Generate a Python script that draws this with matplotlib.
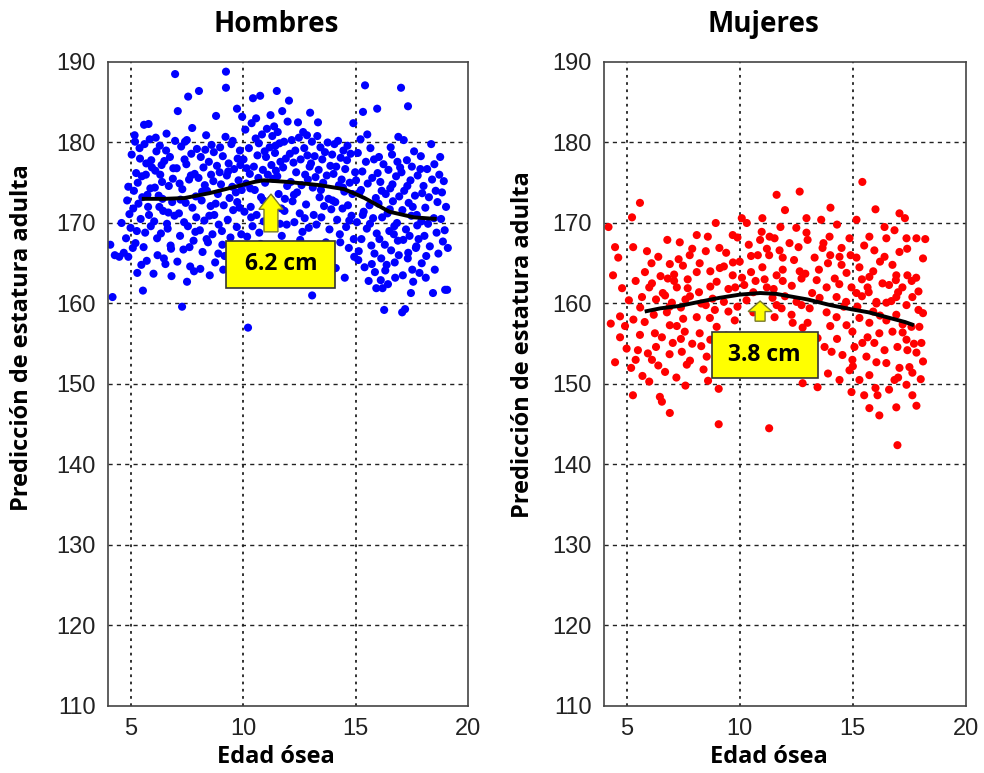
import numpy as np
import matplotlib
matplotlib.use('Agg')
import matplotlib.pyplot as plt
from matplotlib.patches import Rectangle, FancyArrow

# ---- Hombres: edad osea vs prediccion de estatura ----
hombres_edad = [
    4.1, 4.2, 4.5, 4.7, 4.9, 5.0, 4.8, 4.9, 4.6, 4.95, 4.3, 4.85,
    5.05, 5.1, 5.15, 5.2, 5.25, 5.3, 5.35, 5.4, 5.45, 5.5,
    5.55, 5.6, 5.65, 5.7, 5.75, 5.8, 5.85, 5.9, 5.95, 5.12,
    5.22, 5.32, 5.42, 5.52, 5.62, 5.72, 5.82, 5.92, 5.28, 5.48,
    5.68, 5.88, 5.18, 5.58, 5.78,
    6.02, 6.05, 6.1, 6.15, 6.2, 6.25, 6.3, 6.35, 6.4, 6.45,
    6.5, 6.55, 6.6, 6.65, 6.7, 6.75, 6.8, 6.85, 6.9, 6.95,
    6.08, 6.18, 6.28, 6.38, 6.48, 6.58, 6.68, 6.78, 6.88, 6.98,
    6.12, 6.42, 6.62, 6.82, 6.32,
    6.98, 7.56, 7.1, 7.74, 7.29, 7.51, 7.05, 7.15, 7.2, 7.25,
    7.3, 7.35, 7.4, 7.45, 7.5, 7.55, 7.6, 7.65, 7.7, 7.75,
    7.8, 7.85, 7.9, 7.95, 7.08, 7.18, 7.38, 7.48, 7.62, 7.82,
    7.92, 7.22, 7.42, 7.68, 7.88,
    8.04, 8.8, 8.36, 8.02, 8.08, 8.12, 8.16, 8.2, 8.24, 8.28,
    8.32, 8.4, 8.44, 8.48, 8.52, 8.56, 8.6, 8.64, 8.68, 8.72,
    8.76, 8.84, 8.88, 8.92, 8.96, 8.1, 8.3, 8.5, 8.7, 8.9,
    8.18, 8.38, 8.58, 8.78, 8.98,
    9.24, 9.24, 9.73, 9.96, 9.02, 9.06, 9.1, 9.14, 9.18, 9.22,
    9.28, 9.32, 9.36, 9.4, 9.44, 9.48, 9.52, 9.56, 9.6, 9.64,
    9.68, 9.72, 9.76, 9.8, 9.84, 9.88, 9.92, 9.12, 9.34, 9.54,
    9.74, 9.94, 9.08, 9.46, 9.86,
    10.44, 10.76, 10.22, 10.02, 10.06, 10.1, 10.14, 10.18, 10.26, 10.3,
    10.34, 10.38, 10.42, 10.48, 10.52, 10.56, 10.6, 10.64, 10.68, 10.72,
    10.8, 10.84, 10.88, 10.92, 10.96, 10.12, 10.32, 10.5, 10.7, 10.9,
    10.16, 10.36, 10.58, 10.78, 10.98,
    11.5, 11.02, 11.06, 11.1, 11.14, 11.18, 11.22, 11.26, 11.3, 11.34,
    11.38, 11.42, 11.46, 11.54, 11.58, 11.62, 11.66, 11.7, 11.74, 11.78,
    11.82, 11.86, 11.9, 11.94, 11.98, 11.12, 11.32, 11.52, 11.72, 11.92,
    11.24, 11.44, 11.64, 11.84, 11.96,
    12.04, 12.44, 12.67, 12.98, 12.08, 12.12, 12.16, 12.2, 12.24, 12.28,
    12.32, 12.36, 12.4, 12.48, 12.52, 12.56, 12.6, 12.64, 12.72, 12.76,
    12.8, 12.84, 12.88, 12.92, 12.96, 12.14, 12.34, 12.54, 12.74, 12.94,
    12.26, 12.86,
    13.33, 13.07, 13.02, 13.06, 13.1, 13.14, 13.18, 13.22, 13.26, 13.3,
    13.36, 13.4, 13.44, 13.48, 13.52, 13.56, 13.6, 13.64, 13.68, 13.72,
    13.76, 13.8, 13.84, 13.88, 13.92, 13.96, 13.12, 13.38, 13.58, 13.78,
    13.98, 13.46,
    14.9, 14.02, 14.06, 14.1, 14.14, 14.18, 14.22, 14.26, 14.3, 14.34,
    14.38, 14.42, 14.46, 14.5, 14.54, 14.58, 14.62, 14.66, 14.7, 14.74,
    14.78, 14.82, 14.86, 14.94, 14.98, 14.12, 14.32, 14.52, 14.72, 14.92,
    14.44, 14.64,
    15.42, 15.96, 15.33, 15.02, 15.06, 15.1, 15.14, 15.18, 15.22, 15.26,
    15.3, 15.36, 15.4, 15.46, 15.5, 15.54, 15.58, 15.62, 15.66, 15.7,
    15.74, 15.78, 15.82, 15.86, 15.9, 15.94, 15.98, 15.12, 15.32, 15.52,
    15.72, 15.92, 15.24, 15.64, 15.84,
    16.27, 16.76, 16.2, 16.9, 16.02, 16.06, 16.1, 16.14, 16.18, 16.24,
    16.3, 16.34, 16.38, 16.42, 16.46, 16.5, 16.54, 16.58, 16.62, 16.66,
    16.7, 16.74, 16.8, 16.84, 16.88, 16.94, 16.98, 16.12, 16.32, 16.52,
    16.72, 16.92, 16.04, 16.44, 16.64, 16.86, 16.16, 16.56,
    17.02, 17.33, 17.07, 17.2, 17.56, 17.04, 17.08, 17.12, 17.16, 17.24,
    17.28, 17.32, 17.36, 17.4, 17.44, 17.48, 17.52, 17.6, 17.64, 17.68,
    17.72, 17.76, 17.8, 17.84, 17.88, 17.92, 17.96, 17.14, 17.34, 17.54,
    17.74, 17.94, 17.1, 17.3, 17.5, 17.7, 17.9, 17.46,
    18.36, 18.76, 18.44, 18.98, 19.07, 18.02, 18.06, 18.1, 18.14, 18.18,
    18.22, 18.26, 18.3, 18.4, 18.48, 18.52, 18.56, 18.6, 18.64, 18.68,
    18.72, 18.8, 18.84, 18.88, 18.92, 18.96, 19.02, 19.1, 18.12, 18.5,
]
hombres_estatura = [
    167.3, 160.8, 165.8, 166.3, 165.8, 169.4, 168.1, 174.5, 170.0, 171.1, 166.0, 172.8,
    178.5, 166.9, 174.0, 180.1, 176.2, 163.8, 172.4, 179.3, 170.5, 175.8,
    161.6, 182.2, 168.8, 177.4, 173.5, 182.3, 180.4, 169.6, 176.9, 171.8,
    167.5, 175.0, 178.0, 173.2, 179.8, 165.3, 171.0, 177.8, 169.0, 164.8,
    176.0, 174.3, 180.9, 167.0, 172.0,
    163.7, 170.2, 176.5, 178.9, 166.0, 173.4, 179.6, 168.7, 175.1, 171.5,
    177.7, 164.9, 181.1, 169.3, 174.6, 178.2, 166.8, 172.6, 176.8, 170.9,
    174.4, 168.1, 172.0, 177.2, 165.6, 179.0, 171.3, 167.2, 175.5, 180.2,
    180.6, 173.0, 169.9, 163.4, 176.0,
    188.5, 185.7, 183.9, 181.8, 159.6, 162.7, 176.8, 171.2, 168.4, 179.5,
    174.2, 166.7, 177.9, 172.5, 180.3, 169.6, 175.4, 164.6, 178.6, 171.9,
    167.8, 176.1, 173.3, 179.2, 165.2, 174.9, 170.1, 177.3, 167.0, 164.0,
    170.7, 172.9, 180.1, 175.9, 168.9,
    186.4, 183.3, 180.9, 175.6, 169.1, 178.2, 172.8, 166.4, 176.9, 170.3,
    179.1, 174.0, 167.6, 177.6, 163.5, 172.1, 179.7, 168.6, 175.2, 171.0,
    165.1, 177.1, 173.6, 169.8, 176.3, 164.3, 174.7, 170.9, 178.8, 166.2,
    173.9, 168.0, 176.0, 172.4, 179.4,
    188.8, 186.8, 184.2, 183.2, 174.8, 169.0, 178.3, 172.2, 165.9, 180.7,
    175.9, 170.4, 177.4, 173.1, 168.2, 179.8, 174.5, 171.6, 176.7, 166.8,
    173.8, 169.5, 178.0, 175.3, 171.9, 177.2, 168.6, 164.2, 176.4, 180.2,
    172.6, 174.1, 167.3, 163.0, 179.0,
    185.5, 185.8, 157.0, 177.9, 171.4, 181.6, 174.9, 168.3, 179.3, 176.1,
    172.0, 182.4, 169.6, 177.0, 174.1, 180.5, 171.0, 178.4, 175.6, 168.8,
    173.2, 181.0, 176.6, 170.2, 178.9, 165.0, 174.3, 163.8, 179.9, 172.8,
    176.8, 170.7, 183.0, 167.4, 175.0,
    186.4, 178.2, 181.7, 176.0, 170.6, 179.4, 183.4, 177.2, 180.8, 175.5,
    182.0, 178.7, 176.5, 181.3, 173.6, 179.9, 177.6, 171.8, 183.9, 176.9,
    180.1, 173.0, 178.0, 169.8, 182.6, 166.3, 167.0, 175.8, 168.4, 165.2,
    172.9, 179.6, 169.9, 171.5, 174.6,
    185.2, 182.5, 181.3, 183.7, 178.6, 175.1, 180.3, 172.7, 177.5, 170.1,
    179.0, 176.3, 173.8, 180.6, 171.2, 177.9, 174.7, 168.9, 179.3, 176.0,
    172.3, 180.9, 175.4, 169.4, 177.0, 166.6, 164.7, 167.9, 170.6, 165.8,
    173.5, 178.4,
    182.5, 161.0, 177.4, 180.1, 174.4, 171.0, 178.3, 175.7, 169.8, 180.8,
    176.6, 173.2, 179.4, 170.7, 177.9, 175.0, 172.1, 178.8, 167.6, 175.9,
    180.0, 173.0, 169.2, 177.1, 171.7, 178.5, 165.4, 167.1, 166.0, 164.5,
    172.8, 174.1,
    182.4, 176.1, 179.8, 172.6, 177.0, 170.4, 180.2, 174.7, 168.6, 178.1,
    175.4, 171.8, 179.0, 173.9, 176.7, 169.5, 177.8, 172.2, 166.9, 175.0,
    178.6, 170.9, 173.6, 165.8, 176.3, 164.4, 167.6, 163.2, 170.3, 168.0,
    174.4, 179.6,
    187.1, 184.2, 183.8, 175.3, 170.1, 178.7, 166.5, 173.8, 180.4, 168.0,
    176.4, 171.4, 164.5, 177.6, 169.3, 174.9, 162.8, 172.2, 179.3, 167.2,
    175.6, 170.6, 177.9, 163.9, 173.1, 168.7, 176.2, 165.4, 171.0, 181.0,
    164.9, 161.9, 174.1, 169.9, 166.2,
    159.2, 163.2, 161.9, 180.7, 172.4, 168.0, 175.1, 165.6, 170.7, 177.3,
    167.3, 173.6, 164.8, 171.2, 176.6, 169.0, 174.3, 166.6, 178.5, 172.7,
    168.6, 165.1, 175.8, 170.0, 167.8, 173.3, 176.9, 162.9, 164.1, 171.7,
    169.6, 166.0, 178.2, 162.4, 174.8, 177.6, 174.0, 179.4,
    186.8, 184.5, 158.9, 159.3, 162.7, 176.3, 171.6, 167.9, 174.0, 169.2,
    177.8, 165.6, 172.5, 168.4, 175.3, 170.9, 164.2, 178.9, 173.4, 166.9,
    171.0, 175.9, 168.0, 163.8, 176.7, 170.2, 173.7, 180.3, 166.3, 172.0,
    169.7, 165.0, 163.5, 174.6, 177.0, 167.1, 178.3, 161.3,
    179.8, 178.2, 161.3, 161.7, 161.7, 174.6, 168.4, 171.9, 165.9, 176.7,
    169.9, 173.2, 167.1, 175.4, 170.6, 164.2, 174.0, 168.8, 172.6, 166.2,
    176.0, 170.5, 173.8, 167.7, 175.2, 169.1, 172.0, 166.9, 163.2, 177.3,
]

# curva media hombres
hombres_curva_edad = [5.5, 6.5, 7.4, 8.5, 9.5, 10.5, 10.9, 12.0, 13.4, 14.5, 15.4, 16.5, 17.6, 18.6]
hombres_curva_estatura = [173.0, 173.0, 173.1, 173.7, 174.4, 175.1, 175.3, 175.1, 174.7, 174.2, 173.1, 171.4, 170.7, 170.5]

# ---- Mujeres ----
mujeres_edad = [
    5.59, 5.24, 4.49, 4.63, 5.29, 8.94, 7.35, 8.1, 8.59, 9.69,
    10.09, 10.31, 11.0, 10.97, 7.79, 8.23, 6.91, 7.49, 5.81, 6.12,
    6.82, 9.12, 8.98, 9.69, 7.22, 7.7, 5.68,
    15.42, 11.63, 12.65, 14.01, 17.06, 12.95, 15.16, 16.4, 16.84, 12.95,
    13.97, 14.85, 15.73, 16.48, 17.37, 17.81, 11.32, 11.54, 12.2, 13.66,
    14.5, 15.95, 17.06, 13.31, 14.41, 15.16, 11.76, 11.9, 11.0, 11.9,
    12.65, 14.5, 15.29, 16.75, 11.63, 12.73, 14.72, 15.73, 16.92, 17.41,
    13.84, 14.94, 15.65, 16.31, 17.19, 16.92, 17.63, 15.16, 16.04, 16.48,
    14.28, 13.53, 12.51, 11.45,
    4.71, 4.93, 4.71, 4.49, 5.28, 6.47, 6.56, 6.91, 9.07, 9.07,
    11.3, 5.5, 5.94, 6.12, 7.44, 7.66, 5.59, 6.25, 6.56, 7.04,
    8.23, 8.54, 6.91, 7.22, 7.57, 8.98, 9.78, 8.68, 6.78, 8.1,
    16.97, 15.73, 16.17, 16.92, 17.81, 16.09, 14.94, 13.44, 12.78, 14.41,
    15.73, 16.84, 17.37, 17.63, 14.85, 15.29, 17.63, 17.5, 17.06, 16.48,
    16.04, 15.6, 14.98, 14.54, 14.06, 13.75, 13.44, 15.07, 15.42, 15.95,
    16.4, 16.97, 17.41, 18.03, 17.81, 17.37, 17.59, 17.94, 16.75, 16.17,
    15.65, 14.98, 14.72, 15.29, 15.73, 16.48, 16.92, 14.28, 13.84, 13.09,
    12.73, 17.37, 16.04, 12.34, 12.78, 12.29, 11.85, 11.54, 12.95, 11.63,
    4.2, 6.3, 6.6, 7.0, 7.4, 7.8, 8.2, 8.5, 8.8, 9.3,
    9.5, 9.9, 10.2, 10.5, 10.6, 10.8, 9.4, 8.7, 7.1, 6.4,
    5.9, 5.4, 5.1, 4.8, 4.4, 10.0, 10.4, 9.8,
    5.2, 5.7, 6.3, 7.9, 8.4, 8.7, 6.0, 7.2, 4.3, 5.0,
    9.4, 9.6,
    13.1, 13.9, 14.3, 16.6, 17.2, 18.1, 18.0, 17.9, 17.6, 18.1,
    18.2, 16.2, 15.5, 14.0, 13.0, 12.5, 12.0, 13.6, 16.0, 17.3,
    14.3, 11.2, 12.3, 13.2, 14.6, 15.9, 17.0, 17.8, 16.6, 15.4,
    13.5, 11.2, 10.6,
    6.0, 6.2, 6.5, 6.7, 6.9, 7.1, 7.3, 7.5, 7.7, 7.9,
    8.1, 8.3, 8.5, 8.7, 8.9, 9.1, 9.3, 9.5, 9.7, 9.9,
    10.1, 10.3, 10.5, 10.7, 10.9, 5.3, 5.6, 6.1, 6.8, 7.6,
    5.4, 5.8, 6.4, 6.9, 7.4, 7.8, 8.3, 8.6, 6.7, 7.6,
    11.1, 11.5, 11.9, 12.4, 12.9, 13.4, 13.9, 14.4, 14.9, 15.4,
    15.9, 16.4, 16.9, 17.4, 17.9, 11.3, 11.8, 12.6, 13.7, 14.2,
    14.7, 15.2, 15.7, 16.2, 16.7, 17.2, 17.7, 18.1, 13.0, 15.0,
    16.0, 17.0, 14.0, 12.0, 15.5,
]
mujeres_estatura = [
    172.5, 170.7, 167.0, 165.7, 167.0, 170.0, 167.6, 168.5, 168.3, 168.5,
    170.6, 170.0, 170.6, 168.9, 166.0, 165.0, 164.9, 164.7, 163.9, 162.5,
    163.1, 164.4, 162.7, 163.5, 162.0, 161.9, 160.8,
    175.1, 173.5, 173.9, 171.9, 171.2, 170.6, 170.4, 169.5, 169.1, 168.8,
    168.3, 168.1, 168.3, 168.1, 168.1, 168.1, 168.3, 168.1, 167.5, 166.9,
    166.9, 166.6, 166.4, 165.7, 165.8, 165.7, 166.6, 165.7, 164.5, 164.2,
    164.0, 164.8, 164.5, 164.8, 163.5, 163.1, 163.8, 163.3, 163.5, 163.5,
    162.0, 162.0, 162.0, 162.5, 162.0, 160.8, 160.8, 161.3, 160.2, 160.1,
    160.8, 160.7, 160.2, 160.7,
    158.4, 157.2, 155.8, 152.7, 148.6, 148.4, 147.8, 146.4, 149.4, 145.0,
    144.5, 154.2, 153.8, 153.0, 154.0, 152.4, 156.1, 156.3, 155.8, 155.1,
    156.3, 153.4, 157.3, 157.2, 156.5, 157.1, 157.9, 158.2, 158.9, 158.3,
    142.4, 147.0, 146.1, 147.1, 147.3, 148.6, 149.0, 149.6, 150.1, 150.5,
    151.1, 150.5, 149.9, 148.6, 151.7, 150.5, 151.4, 152.1, 152.0, 152.6,
    152.7, 153.4, 153.0, 153.6, 154.0, 154.6, 155.7, 154.6, 155.1, 155.1,
    154.2, 154.6, 154.2, 155.1, 153.9, 155.5, 157.1, 157.1, 156.5, 156.3,
    155.8, 156.5, 157.3, 158.2, 157.6, 157.9, 158.6, 158.3, 158.9, 159.4,
    159.8, 159.8, 160.0, 157.6, 157.0, 158.6, 159.4, 158.3, 155.8, 159.8,
    169.5, 160.5, 161.3, 160.1, 159.5, 160.9, 161.4, 159.8, 160.6, 160.2,
    161.8, 159.6, 162.3, 163.9, 158.9, 166.0, 166.3, 164.0, 163.6, 165.8,
    166.5, 162.8, 160.4, 161.9, 163.5, 165.2, 167.3, 162.0,
    152.0, 151.0, 154.6, 155.0, 151.8, 155.5, 150.3, 150.8, 157.5, 154.4,
    156.0, 153.0,
    152.0, 151.3, 155.6, 149.3, 157.4, 152.8, 150.6, 159.2, 162.8, 165.6,
    168.0, 165.2, 167.2, 166.0, 167.9, 169.4, 171.6, 170.4, 171.7, 170.6,
    169.8, 166.8, 162.2, 161.3, 159.6, 159.0, 161.4, 163.2, 162.3, 163.0,
    164.2, 162.0, 161.4,
    162.0, 158.6, 163.4, 161.0, 159.6, 162.8, 165.5, 158.1, 163.0, 166.8,
    163.9, 160.0, 166.5, 162.1, 159.2, 166.9, 164.6, 159.0, 165.1, 168.2,
    163.2, 160.4, 165.9, 162.8, 167.9, 158.0, 159.5, 165.0, 167.9, 160.5,
    153.0, 157.7, 152.3, 153.7, 155.6, 152.9, 154.7, 150.4, 151.5, 149.8,
    163.0, 161.8, 162.8, 165.4, 163.7, 162.9, 165.0, 162.4, 166.0, 160.9,
    164.0, 165.8, 162.9, 166.8, 161.5, 166.0, 169.5, 167.0, 167.5, 163.1,
    160.2, 159.6, 161.4, 158.5, 160.3, 156.4, 155.0, 158.8, 157.6, 152.2,
    149.5, 150.8, 157.2, 160.9, 148.6,
]

mujeres_curva_edad = [5.8, 6.5, 7.35, 8.2, 9.1, 10.0, 10.9, 11.6, 12.2, 13.0, 14.0, 14.9, 15.7, 16.5, 17.3, 17.7]
mujeres_curva_estatura = [159.0, 159.4, 159.7, 160.2, 160.7, 161.1, 161.3, 161.2, 160.9, 160.5, 159.8, 159.3, 158.9, 158.3, 157.7, 157.3]

diferencia = ['6.2 cm', '3.8 cm']
titulos = ['Hombres', 'Mujeres']

plt.rcParams['font.family'] = ['Liberation Sans', 'DejaVu Sans']

fig = plt.figure(figsize=(9.84, 7.73), dpi=100)
ax1 = fig.add_axes([0.1098, 0.0867, 0.3659, 0.8331])
ax2 = fig.add_axes([0.6138, 0.0867, 0.3679, 0.8331])

paneles = [
    (ax1, hombres_edad, hombres_estatura, hombres_curva_edad, hombres_curva_estatura, '#0000ff'),
    (ax2, mujeres_edad, mujeres_estatura, mujeres_curva_edad, mujeres_curva_estatura, '#ff0000'),
]

for ax, ex, ey, cx, cy, col in paneles:
    ax.scatter(ex, ey, s=34, color=col, edgecolors='none', zorder=2)
    ax.plot(cx, cy, color='black', lw=2.8, zorder=3, solid_capstyle='butt')
    ax.set_xlim(4, 20)
    ax.set_ylim(110, 190)
    ax.set_xticks([5, 10, 15, 20])
    ax.set_yticks(range(110, 191, 10))
    for yv in range(120, 190, 10):
        ax.axhline(yv, color='#222222', lw=1.0, ls=(0, (3, 3)), zorder=1)
    for xv in (5, 10, 15):
        ax.axvline(xv, color='#222222', lw=1.3, ls=(0, (1.5, 2.5)), zorder=1)
    ax.tick_params(length=0, labelsize=17, pad=9, labelcolor='#222222')
    for sp in ax.spines.values():
        sp.set_color('#444444')
        sp.set_linewidth(1.2)

# flechas y cajas de diferencia
flechas = [
    (ax1, 11.24, 168.9, 4.7, 0.62, 1.07, 1.9, (9.25, 161.9, 4.85, 5.9)),
    (ax2, 10.9, 157.8, 2.5, 0.44, 1.06, 1.3, (8.76, 150.7, 4.68, 5.8)),
]
for (ax, x0, y0, largo, ancho, cabeza, lcab, caja), txt in zip(flechas, diferencia):
    ax.add_patch(FancyArrow(x0, y0, 0, largo, width=ancho, head_width=cabeza,
                            head_length=lcab, length_includes_head=True,
                            facecolor='#ffff00', edgecolor='#7a7a2a', lw=1.0, zorder=4))
    bx, by, bw, bh = caja
    ax.add_patch(Rectangle((bx, by), bw, bh, facecolor='#ffff00',
                           edgecolor='#333333', lw=1.2, zorder=4))
    ax.text(bx + bw / 2, by + bh / 2, txt, ha='center', va='center',
            fontsize=16.5, fontweight='bold', family='Open Sans', zorder=5)

# titulos y etiquetas
fig.text(0.281, 0.968, titulos[0], ha='center', va='center', fontsize=20,
         fontweight='bold', family='Open Sans')
fig.text(0.776, 0.968, titulos[1], ha='center', va='center', fontsize=20,
         fontweight='bold', family='Open Sans')
for xc in (0.280, 0.781):
    fig.text(xc, 0.021, 'Edad ósea', ha='center', va='center', fontsize=17,
             fontweight='bold', family='Open Sans')
fig.text(0.022, 0.563, 'Predicción de estatura adulta', rotation=90, ha='center',
         va='center', fontsize=17, fontweight='bold', family='Open Sans')
fig.text(0.531, 0.554, 'Predicción de estatura adulta', rotation=90, ha='center',
         va='center', fontsize=17, fontweight='bold', family='Open Sans')

fig.savefig('out.png', dpi=100)
